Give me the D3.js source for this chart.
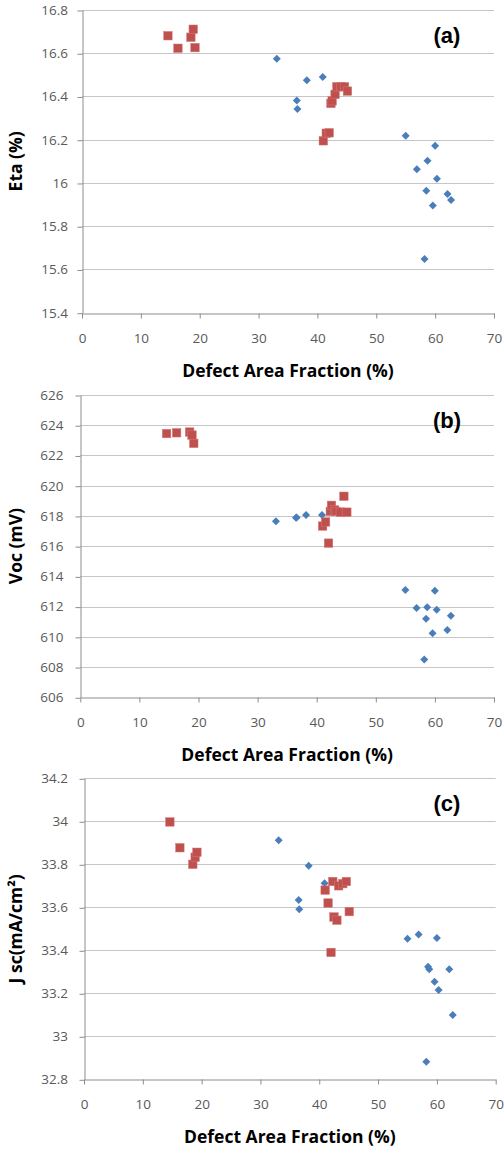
<!DOCTYPE html>
<html>
<head>
<meta charset="utf-8">
<script src="https://cdn.jsdelivr.net/npm/d3@7"></script>
<style>
  body { margin: 0; background: #fff; }
  svg { display: block; }
</style>
</head>
<body>
<div id="content"></div>
<script>
// defect area fraction (%) per sample, two groups
const redX  = [14.6, 16.3, 18.5, 18.9, 19.2, 41.0, 41.5, 42.0, 42.3, 42.5, 43.0, 43.3, 44.0, 44.6, 45.1];
const blueX = [33.1, 36.5, 36.6, 38.2, 40.9, 55.0, 56.9, 58.2, 58.5, 58.7, 59.6, 60.0, 60.3, 62.1, 62.7];

const etaRed  = [16.681, 16.623, 16.674, 16.711, 16.626, 16.195, 16.23, 16.232, 16.368, 16.38, 16.41, 16.445, 16.445, 16.445, 16.425];
const etaBlue = [16.575, 16.382, 16.342, 16.475, 16.49, 16.218, 16.063, 15.648, 15.964, 16.103, 15.896, 16.172, 16.019, 15.949, 15.921];

const vocRed  = [623.45, 623.5, 623.55, 623.35, 622.8, 617.33, 617.6, 616.2, 618.3, 618.7, 618.4, 618.3, 618.25, 619.3, 618.25];
const vocBlue = [617.64, 617.88, 617.9, 618.06, 618.06, 613.1, 611.9, 608.5, 611.2, 611.95, 610.23, 613.05, 611.8, 610.45, 611.4];

const jscRed  = [33.997, 33.877, 33.80, 33.833, 33.856, 33.68, 33.62, 33.39, 33.72, 33.555, 33.54, 33.70, 33.71, 33.72, 33.58];
const jscBlue = [33.912, 33.634, 33.591, 33.793, 33.712, 33.454, 33.473, 32.882, 33.324, 33.312, 33.254, 33.457, 33.215, 33.312, 33.099];

const xTicks = [0, 10, 20, 30, 40, 50, 60, 70];
const etaTicks = [15.4, 15.6, 15.8, 16, 16.2, 16.4, 16.6, 16.8];
const vocTicks = [606, 608, 610, 612, 614, 616, 618, 620, 622, 624, 626];
const jscTicks = [32.8, 33, 33.2, 33.4, 33.6, 33.8, 34, 34.2];

const W = 504, H = 1151;
const FONT = "'Open Sans', Lato, sans-serif";

const svg = d3.select("#content").append("svg")
    .attr("width", W).attr("height", H);

const panels = [
  { tag: "(a)", title: "Eta (%)", ticks: etaTicks, red: etaRed, blue: etaBlue,
    left: 82, right: 494, top: 10, bottom: 312.7, labelRight: 68 },
  { tag: "(b)", title: "Voc (mV)", ticks: vocTicks, red: vocRed, blue: vocBlue,
    left: 80.3, right: 494, top: 395, bottom: 697.3, labelRight: 63.5 },
  { tag: "(c)", title: "J sc(mA/cm²)", ticks: jscTicks, red: jscRed, blue: jscBlue,
    left: 84, right: 495.7, top: 778.3, bottom: 1079.3, labelRight: 68 }
];

panels.forEach(drawPanel);

function drawPanel(p){
    const x = d3.scaleLinear().domain([0, 70]).range([p.left, p.right]);
    const y = d3.scaleLinear().domain(d3.extent(p.ticks)).range([p.bottom, p.top]);
    const fmt = d => String(+d.toFixed(1));
    const g = svg.append("g");

    // gridlines
    g.append("g")
        .selectAll("line")
        .data(p.ticks.slice(1))
        .enter().append("line")
            .attr("x1", p.left).attr("x2", p.right)
            .attr("y1", d => Math.round(y(d)) + 0.5)
            .attr("y2", d => Math.round(y(d)) + 0.5)
            .attr("stroke", "#c6c6c6");

    // y axis
    const ya = g.append("g")
        .attr("transform", `translate(${Math.round(p.left) + 0.5},0)`)
        .call(d3.axisLeft(y).tickValues(p.ticks).tickFormat(fmt).tickSize(5).tickSizeOuter(0));
    ya.select(".domain").attr("stroke", "#8c8c8c");
    ya.selectAll(".tick line").attr("stroke", "#8c8c8c")
        .attr("transform", "translate(0,0.5)");
    ya.selectAll(".tick text")
        .attr("x", p.labelRight - Math.round(p.left) - 0.5)
        .attr("fill", "#595959")
        .style("font", `13.5px ${FONT}`);

    // x axis
    const xa = g.append("g")
        .attr("transform", `translate(0,${Math.round(p.bottom) + 0.5})`)
        .call(d3.axisBottom(x).tickValues(xTicks).tickSize(5).tickSizeOuter(0));
    xa.select(".domain").attr("stroke", "#8c8c8c");
    xa.selectAll(".tick line").attr("stroke", "#8c8c8c");
    xa.selectAll(".tick text")
        .attr("y", 29).attr("dy", null)
        .attr("fill", "#595959")
        .style("font", `13.5px ${FONT}`);

    // blue diamonds
    g.append("g").selectAll("path")
        .data(d3.zip(blueX, p.blue))
        .enter().append("path")
            .attr("d", d3.symbol(d3.symbolSquare, 32))
            .attr("transform", d => `translate(${x(d[0])},${y(d[1])}) rotate(45)`)
            .attr("fill", "#4a7ebb");

    // red squares
    g.append("g").selectAll("rect")
        .data(d3.zip(redX, p.red))
        .enter().append("rect")
            .attr("x", d => x(d[0]) - 4.25)
            .attr("y", d => y(d[1]) - 4.25)
            .attr("width", 8.5).attr("height", 8.5)
            .attr("fill", "#c0504d")
            .attr("stroke", "#d07a78").attr("stroke-width", 0.5);

    // panel tag
    g.append("text")
        .attr("x", 447).attr("y", p.top + 33)
        .attr("text-anchor", "middle")
        .style("font", "bold 22px 'Liberation Sans', Arial, sans-serif")
        .attr("fill", "#000")
        .text(p.tag);

    // x axis title
    g.append("text")
        .attr("x", (p.left + p.right) / 2).attr("y", p.bottom + 64)
        .attr("text-anchor", "middle")
        .style("font", `bold 17.5px ${FONT}`)
        .attr("fill", "#000")
        .text("Defect Area Fraction (%)");

    // y axis title
    g.append("text")
        .attr("transform", `translate(22,${(p.top + p.bottom) / 2}) rotate(-90)`)
        .attr("text-anchor", "middle")
        .style("font", `bold 17.5px ${FONT}`)
        .attr("fill", "#000")
        .text(p.title);
}
</script>
</body>
</html>
